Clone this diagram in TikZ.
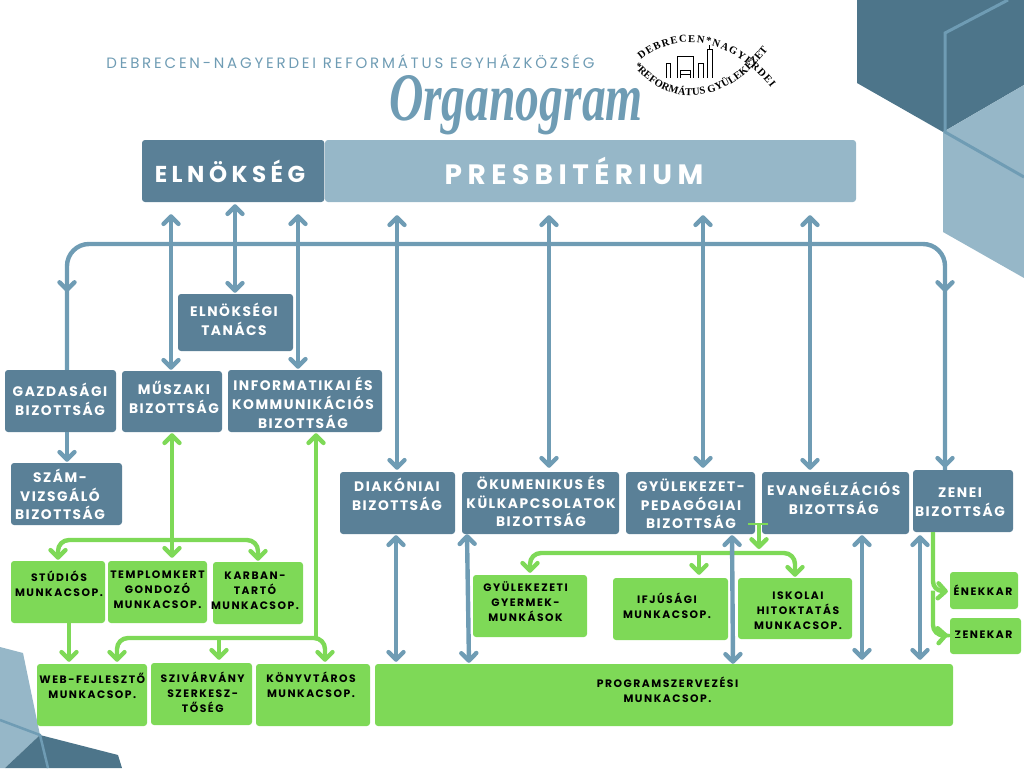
\documentclass[tikz,border=0pt]{standalone}
\usepackage{fontspec}
\usetikzlibrary{arrows.meta,decorations.text}
\setmainfont{Poppins}
\newfontfamily\whitef{Poppins}[LetterSpace=11]
\newfontfamily\blackf{Poppins}[LetterSpace=14]
\newfontfamily\headf{Poppins}[LetterSpace=18.6]
\newfontfamily\bigf{Poppins}[LetterSpace=19.5]
\newfontfamily\logof{Liberation Serif}
\definecolor{dk}{HTML}{5A8097}
\definecolor{lt}{HTML}{96B7C8}
\definecolor{bgd}{HTML}{4D758A}
\definecolor{ln}{HTML}{6F9CB4}
\definecolor{gr}{HTML}{7ED957}
\tikzset{
  bdk/.style={fill=dk,rounded corners=3pt,inner sep=0pt},
  blt/.style={fill=lt,rounded corners=3pt,inner sep=0pt},
  bgr/.style={fill=gr,rounded corners=3pt,inner sep=0pt},
  wtext/.style={text=white,align=center,inner sep=0pt,font=\whitef\fontsize{13.8pt}{18.8pt}\selectfont\bfseries},
  ktext/.style={text=black,align=center,inner sep=0pt,font=\blackf\fontsize{10.8pt}{15pt}\selectfont\bfseries},
  bluearrow/.style={draw=ln,line width=4.4pt},
  greenarrow/.style={draw=gr,line width=4.4pt},
  tip/.tip={Straight Barb[length=7.5pt,width=15pt,round]},
  logotext/.style={decorate,decoration={text along path,text align=fit to path}}
}
% \boxn{style}{name}{x1}{y1}{x2}{y2}{text style}{tx}{ty}{text}
\newcommand{\boxn}[9]{%
  \pgfmathsetmacro{\bw}{#5-#3}\pgfmathsetmacro{\bh}{#6-#4}%
  \pgfmathsetmacro{\bx}{(#3+#5)/2}\pgfmathsetmacro{\by}{(#4+#6)/2}%
  \node[#1,minimum width=\bw pt,minimum height=\bh pt] (#2) at (\bx,\by) {};%
  \boxtext{#2}{#7}{#8}{#9}}
\newcommand{\boxtext}[5]{\node[#2] (#1-t) at (#3,#4) {#5};}
\begin{document}
\begin{tikzpicture}[x=1pt,y=-1pt]
\useasboundingbox (0,0) rectangle (1024,768);
% decorative shapes
\fill[bgd] (857,0) -- (857,83) -- (943,132) -- (1024,85) -- (1024,0) -- cycle;
\fill[lt] (943,132) -- (1024,85) -- (1024,278) -- (943,232) -- cycle;
\draw[ln,line width=3pt] (1008,0) -- (945,33) -- (945,132) -- (1024,177);
\fill[lt] (0,647) -- (23,653) -- (40,735) -- (5,768) -- (0,768) -- cycle;
\fill[bgd] (40,735) -- (118,755) -- (122,768) -- (5,768) -- cycle;
\draw[ln,line width=2.5pt] (0,720) -- (40,735) -- (48,768);
% header
\node[text=ln,inner sep=0pt,font=\headf\fontsize{15pt}{16pt}\selectfont] (head) at (350.5,62) {DEBRECEN-NAGYERDEI REFORMÁTUS EGYHÁZKÖZSÉG};
\node[text=ln,inner sep=0pt,font=\logof\fontsize{68pt}{70pt}\selectfont\bfseries\itshape] (title) at (516,105) {\scalebox{0.7}[1]{Organogram}};
% logo
\path[logotext,decoration={text={|\logof\fontsize{10.5pt}{11pt}\selectfont\bfseries|DEBRECEN*NAGYERDEI}}]
  (641,60) .. controls (670,35) and (725,30) .. (771,88);
\path[logotext,decoration={text={|\logof\fontsize{10.5pt}{11pt}\selectfont\bfseries|*REFORMÁTUS GYÜLEKEZET}}]
  (634,66) .. controls (670,110) and (725,105) .. (768,50);
\draw[black,line width=1pt] (666,78) -- (666,63) -- (670,63) -- (670,78)
  (677,78) -- (677,57) -- (693,57) -- (693,78)
  (680,78) -- (680,70) -- (690,70) -- (690,78) (680,74) -- (690,74)
  (698,78) -- (698,63) -- (703,63) -- (703,78)
  (707,78) -- (707,50) -- (712,50) -- (712,78) (709.5,50) -- (709.5,45);
% big boxes
\boxn{bdk}{elnok}{142}{140}{324.3}{202}{wtext,font=\bigf\fontsize{23pt}{24pt}\selectfont\bfseries}{230}{171.5}{ELNÖKSÉG}
\boxn{blt}{presb}{325}{140}{856}{202}{wtext,font=\bigf\fontsize{28pt}{30pt}\selectfont\bfseries}{574}{170.5}{PRESBITÉRIUM}
% committee boxes
\boxn{bdk}{tanacs}{178}{294}{293}{351}{wtext}{234}{319.5}{ELNÖKSÉGI\\TANÁCS}
\boxn{bdk}{gazd}{5}{370}{116}{432}{wtext}{60}{399}{GAZDASÁGI\\BIZOTTSÁG}
\boxn{bdk}{musz}{122}{371}{222}{432}{wtext}{174}{397.5}{MŰSZAKI\\BIZOTTSÁG}
\boxn{bdk}{info}{228}{370}{382}{432}{wtext}{303}{403}{INFORMATIKAI ÉS\\KOMMUNIKÁCIÓS\\BIZOTTSÁG}
\boxn{bdk}{szam}{11}{463}{122}{525}{wtext}{60}{494.5}{SZÁM-\\VIZSGÁLÓ\\BIZOTTSÁG}
\boxn{bdk}{diak}{340}{472}{455}{534}{wtext}{397}{494}{DIAKÓNIAI\\BIZOTTSÁG}
\boxn{bdk}{okum}{462}{472}{619}{534}{wtext}{541}{501.5}{ÖKUMENIKUS ÉS\\KÜLKAPCSOLATOK\\BIZOTTSÁG}
\boxn{bdk}{gyul}{626}{472}{755}{534}{wtext}{691}{503.8}{GYÜLEKEZET-\\PEDAGÓGIAI\\BIZOTTSÁG}
\boxn{bdk}{evan}{762}{472}{909}{534}{wtext}{833.7}{498}{EVANGÉLZÁCIÓS\\BIZOTTSÁG}
\boxn{bdk}{zene}{913}{470}{1013}{532}{wtext}{960}{502}{ZENEI\\BIZOTTSÁG}
% working groups
\boxn{bgr}{stud}{11}{561}{105}{623}{ktext}{59}{583.7}{STÚDIÓS\\MUNKACSOP.}
\boxn{bgr}{temp}{108}{561}{207}{623}{ktext}{157.5}{590}{TEMPLOMKERT\\GONDOZÓ\\MUNKACSOP.}
\boxn{bgr}{karb}{213}{562}{303}{624}{ktext}{255}{591}{KARBAN-\\TARTÓ\\MUNKACSOP.}
\boxn{bgr}{webf}{37}{664}{147}{726}{ktext}{92.3}{685.8}{WEB-FEJLESZTŐ\\MUNKACSOP.}
\boxn{bgr}{sziv}{151}{663}{252}{725}{ktext}{202.7}{692.3}{SZIVÁRVÁNY\\SZERKESZ-\\TŐSÉG}
\boxn{bgr}{konyv}{256}{664}{370}{726}{ktext}{311}{684.5}{KÖNYVTÁROS\\MUNKACSOP.}
\boxn{bgr}{prog}{375}{664}{953}{726}{ktext}{667.5}{690}{PROGRAMSZERVEZÉSI\\MUNKACSOP.}
\boxn{bgr}{gyerm}{473}{575}{587}{637}{ktext}{525.5}{602}{GYÜLEKEZETI\\GYERMEK-\\MUNKÁSOK}
\boxn{bgr}{ifju}{613}{578}{728}{640}{ktext}{667}{605.7}{IFJÚSÁGI\\MUNKACSOP.}
\boxn{bgr}{isk}{738}{578}{852}{639}{ktext}{798}{611}{ISKOLAI\\HITOKTATÁS\\MUNKACSOP.}
\boxn{bgr}{enek}{950}{572}{1018}{609}{ktext}{983}{590.7}{ÉNEKKAR}
\boxn{bgr}{zkar}{950}{618}{1021}{654}{ktext}{983.5}{635}{ZENEKAR}
% helper coordinates
\foreach \n/\xx in {a/171,b/235,c/298,d/397,e/549,f/703,g/810,h/67,i/945,j/396,k/467,l/469,m/732,n/733,o/862,p/920,
  q/172,r/58,s/258,t/69,u/316,v/117,w/325,y/219,z/759,aa/795,ab/530,ac/699,ad/933}{\coordinate (x\n) at (\xx,0);}
\coordinate (busT) at (0,244);
\coordinate (busM) at (0,540);
\coordinate (busI) at (0,638);
\coordinate (busG) at (0,553);
% green connectors
\draw[greenarrow,{tip}-{tip},shorten <=1pt,shorten >=3pt] (musz.south -| xq) -- (temp.north -| xq);
\draw[greenarrow,{tip}-{tip},rounded corners=11pt,shorten <=1pt,shorten >=1pt] (stud.north -| xr) -- (busM -| xr) -- (busM -| xs) -- (karb.north -| xs);
\draw[greenarrow,-{tip},shorten >=2pt] (stud.south -| xt) -- (webf.north -| xt);
\draw[greenarrow,tip-,shorten <=1pt] (info.south -| xu) -- (busI -| xu);
\draw[greenarrow,{tip}-{tip},rounded corners=11pt,shorten <=2pt,shorten >=2pt] (webf.north -| xv) -- (busI -| xv) -- (busI -| xw) -- (konyv.north -| xw);
\draw[greenarrow,-{tip},shorten >=3pt] (busI -| xy) -- (sziv.north -| xy);
\draw[gr,line width=2.5pt] (748,524) -- (768,524);
\draw[greenarrow,-{tip},shorten <=-10pt,shorten >=4pt] (gyul.south -| xz) -- (busG -| xz);
\draw[greenarrow,{tip}-{tip},rounded corners=11pt,shorten <=2pt,shorten >=1pt] (gyerm.north -| xab) -- (busG -| xab) -- (busG -| xaa) -- (isk.north -| xaa);
\draw[greenarrow,-{tip},shorten >=3pt] (busG -| xac) -- (ifju.north -| xac);
\draw[greenarrow,-{tip},rounded corners=9pt,shorten >=2pt] (zene.south -| xad) -- (xad |- enek.west) -- ([yshift=-1pt]enek.west);
\draw[greenarrow,-{tip},rounded corners=11pt,shorten >=2pt] (xad |- enek.west) -- (xad |- zkar.west) -- ([yshift=1pt]zkar.west);
% blue connectors
\draw[bluearrow,{tip}-{tip},shorten <=12pt,shorten >=1pt] (elnok.south -| xa) -- (musz.north -| xa);
\draw[bluearrow,{tip}-{tip},shorten <=2pt,shorten >=1pt] (elnok.south -| xb) -- (tanacs.north -| xb);
\draw[bluearrow,{tip}-{tip},shorten <=12pt,shorten >=1pt] (elnok.south -| xc) -- (info.north -| xc);
\draw[bluearrow,{tip}-{tip},shorten <=13pt,shorten >=2pt] (presb.south -| xd) -- (diak.north -| xd);
\draw[bluearrow,{tip}-{tip},shorten <=13pt,shorten >=4pt] (presb.south -| xe) -- (okum.north -| xe);
\draw[bluearrow,{tip}-{tip},shorten <=13pt,shorten >=4pt] (presb.south -| xf) -- (gyul.north -| xf);
\draw[bluearrow,{tip}-{tip},shorten <=13pt,shorten >=2pt] (presb.south -| xg) -- (evan.north -| xg);
\draw[bluearrow,rounded corners=22pt] (gazd.north -| xh) -- (busT -| xh) -- (busT -| xi) -- (zene.north -| xi);
\coordinate (tipG) at (67,292);
\coordinate (tipZ) at (945,292);
\draw[bluearrow,-{tip}] (xh |- 0,270) -- (tipG);
\draw[bluearrow,-{tip}] (xi |- 0,270) -- (tipZ);
\draw[bluearrow,-{tip},shorten >=2pt] (zene.north -| xi) ++(0,-10) -- (zene.north -| xi);
\draw[bluearrow,-{tip},shorten >=1pt] (gazd.south -| xh) -- (szam.north -| xh);
\draw[bluearrow,{tip}-{tip},shorten <=1pt,shorten >=2pt] (diak.south -| xj) -- (prog.north -| xj);
\draw[bluearrow,{tip}-{tip},shorten <=0pt,shorten >=1pt] (okum.south -| xk) -- (prog.north -| xl);
\draw[bluearrow,{tip}-{tip},shorten <=1pt,shorten >=0pt] (gyul.south -| xm) -- (prog.north -| xn);
\draw[bluearrow,{tip}-{tip},shorten <=1pt,shorten >=4pt] (evan.south -| xo) -- (prog.north -| xo);
\draw[bluearrow,{tip}-{tip},shorten <=3pt,shorten >=4pt] (zene.south -| xp) -- (prog.north -| xp);
\end{tikzpicture}
\end{document}
